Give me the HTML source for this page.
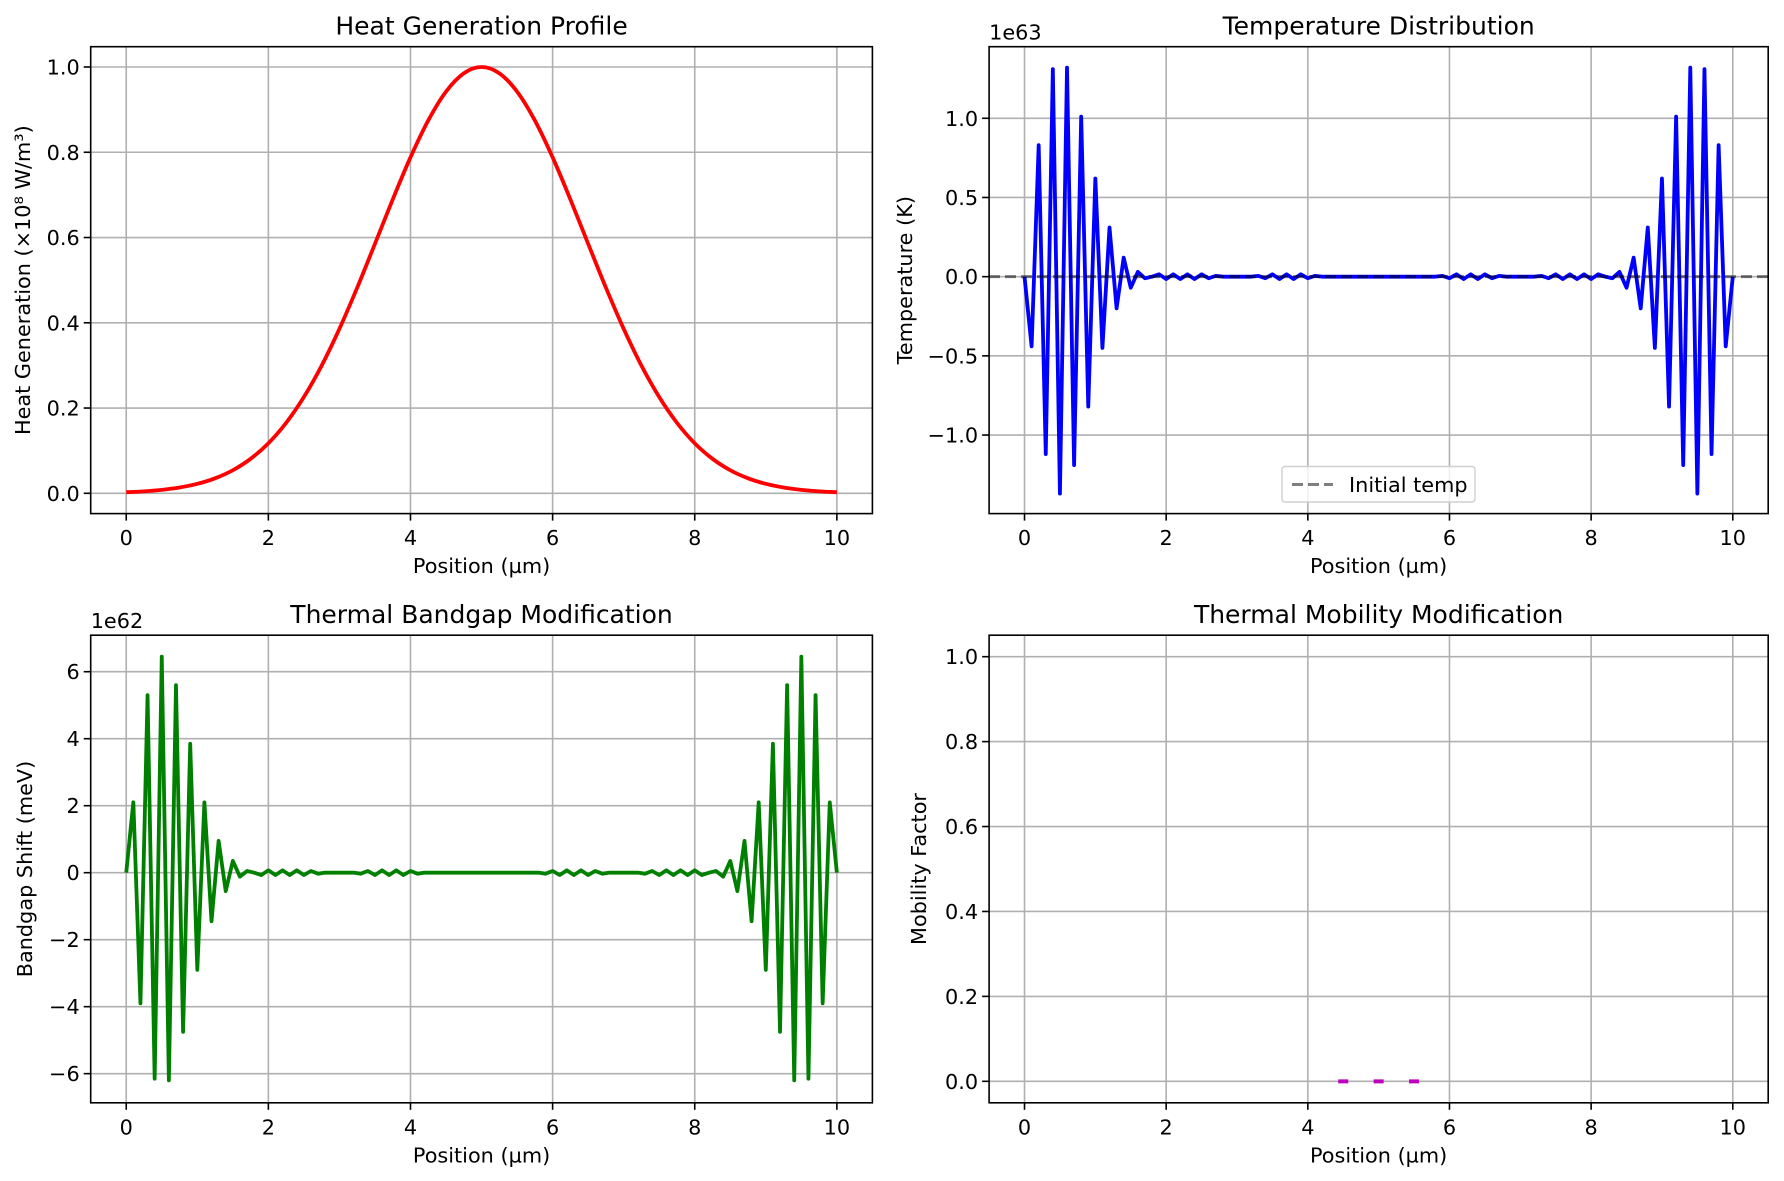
<!DOCTYPE html>
<html><head><meta charset="utf-8"><style>
html,body{margin:0;padding:0;background:#fff}
svg{display:block;font-family:"DejaVu Sans","Liberation Sans",sans-serif}
</style></head><body>
<svg id="fig" width="1784" height="1181" viewBox="0 0 1784 1181" xmlns="http://www.w3.org/2000/svg"></svg>
<script>
const heatX = [0,0.25,0.5,0.75,1,1.25,1.5,1.75,2,2.25,2.5,2.75,3,3.25,3.5,3.75,4,4.25,4.5,4.75,5,5.25,5.5,5.75,6,6.25,6.5,6.75,7,7.25,7.5,7.75,8,8.25,8.5,8.75,9,9.25,9.5,9.75,10];
const heatValues = [0.0026,0.0046,0.0081,0.0136,0.0222,0.0352,0.0541,0.0809,0.1173,0.1652,0.2258,0.2996,0.3859,0.4823,0.5853,0.6893,0.7881,0.8746,0.9422,0.9852,1,0.9852,0.9422,0.8746,0.7881,0.6893,0.5853,0.4823,0.3859,0.2996,0.2258,0.1652,0.1173,0.0809,0.0541,0.0352,0.0222,0.0136,0.0081,0.0046,0.0026];
const tempValues = [0,-0.44,0.83,-1.12,1.31,-1.37,1.32,-1.19,1.01,-0.82,0.62,-0.45,0.31,-0.2,0.12,-0.07,0.03,-0.01,
0,0.015,-0.015,0.015,-0.015,0.015,-0.015,0.015,-0.01,0.005,0,0,0,0,0,0.005,-0.01,0.015,-0.015,0.015,-0.015,0.015,-0.01,0.005,
0,0,0,0,0,0,0,0,0,
0,0,0,0,0,0,0,0,
0.005,-0.01,0.015,-0.015,0.015,-0.015,0.015,-0.01,0.005,0,0,0,0,0,0.005,-0.01,0.015,-0.015,0.015,-0.015,0.015,-0.015,0.015,0,
-0.01,0.03,-0.07,0.12,-0.2,0.31,-0.45,0.62,-0.82,1.01,-1.19,1.32,-1.37,1.31,-1.12,0.83,-0.44,0];
const bandValues = [0,2.1,-3.9,5.3,-6.15,6.45,-6.2,5.6,-4.75,3.85,-2.9,2.1,-1.45,0.95,-0.55,0.35,-0.12,0.05,
0,-0.07,0.07,-0.07,0.07,-0.07,0.07,-0.07,0.05,-0.03,0,0,0,0,0,-0.03,0.05,-0.07,0.07,-0.07,0.07,-0.07,0.05,-0.03,
0,0,0,0,0,0,0,0,0,0,0,0,0,0,0,0,0,
-0.03,0.05,-0.07,0.07,-0.07,0.07,-0.07,0.05,-0.03,0,0,0,0,0,-0.03,0.05,-0.07,0.07,-0.07,0.07,-0.07,0.07,-0.07,0,
0.05,-0.12,0.35,-0.55,0.95,-1.45,2.1,-2.9,3.85,-4.75,5.6,-6.2,6.45,-6.15,5.3,-3.9,2.1,0];
const mobilityX = [4.5,5.0,5.5];
const mobilityValues = [0,0,0];
const xTicks = [0,2,4,6,8,10];
const xTickLabels = ["0","2","4","6","8","10"];
const heatYTicks = [0,0.2,0.4,0.6,0.8,1.0];
const heatYTickLabels = ["0.0","0.2","0.4","0.6","0.8","1.0"];
const tempYTicks = [-1,-0.5,0,0.5,1];
const tempYTickLabels = ["\u22121.0","\u22120.5","0.0","0.5","1.0"];
const bandYTicks = [-6,-4,-2,0,2,4,6];
const bandYTickLabels = ["\u22126","\u22124","\u22122","0","2","4","6"];
const mobYTicks = [0,0.2,0.4,0.6,0.8,1.0];
const mobYTickLabels = ["0.0","0.2","0.4","0.6","0.8","1.0"];

const NS="http://www.w3.org/2000/svg";
const fig=document.getElementById('fig');
const FS=20.8, TFS=25;
function mk(tag,attrs,parent,text){const e=document.createElementNS(NS,tag);for(const k in attrs)e.setAttribute(k,attrs[k]);if(text!==undefined)e.textContent=text;(parent||fig).appendChild(e);return e;}

function makeAxes(o){
  const g=mk('g',{});
  
  
  const sx=v=>o.L+(v-o.xmin)/(o.xmax-o.xmin)*(o.R-o.L);
  const sy=v=>o.B-(v-o.ymin)/(o.ymax-o.ymin)*(o.B-o.T);
  xTicks.forEach((t,i)=>{
    const l=mk('line',{x1:sx(t),x2:sx(t),y1:o.T,y2:o.B,stroke:'#b0b0b0','stroke-width':1.6},g);
    
    
    mk('line',{x1:sx(t),x2:sx(t),y1:o.B,y2:o.B+7,stroke:'#000','stroke-width':1.6},g);
    const tx=mk('text',{x:sx(t),y:o.B+31.5,'font-size':FS,'text-anchor':'middle'},g,xTickLabels[i]);
    
    
  });
  o.yt.forEach((t,i)=>{
    const l=mk('line',{x1:o.L,x2:o.R,y1:sy(t),y2:sy(t),stroke:'#b0b0b0','stroke-width':1.6},g);
    
    
    mk('line',{x1:o.L-7,x2:o.L,y1:sy(t),y2:sy(t),stroke:'#000','stroke-width':1.6},g);
    const tx=mk('text',{x:o.L-11,y:sy(t)+7.5,'font-size':FS,'text-anchor':'end'},g,o.ytl[i]);
    
    
  });
  const clipId='c'+o.name;
  const cp=mk('clipPath',{id:clipId},g);
  mk('rect',{x:o.L,y:o.T,width:o.R-o.L,height:o.B-o.T},cp);
  const plot=mk('g',{'clip-path':'url(#'+clipId+')'},g);
  o.draw(plot,sx,sy);
  const fr=mk('rect',{x:o.L,y:o.T,width:o.R-o.L,height:o.B-o.T,fill:'none',stroke:'#000','stroke-width':1.6},g);
  
  
  const ti=mk('text',{x:(o.L+o.R)/2,y:o.T-12,'font-size':TFS,'text-anchor':'middle'},g,o.title);
  
  
  const xl=mk('text',{x:(o.L+o.R)/2,y:o.B+59.5,'font-size':FS,'text-anchor':'middle'},g,'Position (\u00b5m)');
  
  
  const cy=(o.T+o.B)/2;
  const yl=mk('text',{x:o.ylx,y:cy,'font-size':FS,'text-anchor':'middle',transform:'rotate(-90 '+o.ylx+' '+cy+')'},g,o.ylabel);
  
  
  if(o.offset){
    const ot=mk('text',{x:o.L,y:o.T-7,'font-size':FS,'text-anchor':'start'},g,o.offset);
    
    
  }
}
function pathFrom(xs,ys,sx,sy){return xs.map((x,i)=>(i?'L':'M')+sx(x).toFixed(2)+','+sy(ys[i]).toFixed(2)).join(' ');}
function smoothPath(xs,ys,sx,sy){
  const P=xs.map((x,i)=>[sx(x),sy(ys[i])]);
  let d='M'+P[0][0].toFixed(2)+','+P[0][1].toFixed(2);
  for(let i=0;i<P.length-1;i++){
    const p0=P[Math.max(0,i-1)],p1=P[i],p2=P[i+1],p3=P[Math.min(P.length-1,i+2)];
    const c1=[p1[0]+(p2[0]-p0[0])/6,p1[1]+(p2[1]-p0[1])/6];
    const c2=[p2[0]-(p3[0]-p1[0])/6,p2[1]-(p3[1]-p1[1])/6];
    d+=' C'+c1[0].toFixed(2)+','+c1[1].toFixed(2)+' '+c2[0].toFixed(2)+','+c2[1].toFixed(2)+' '+p2[0].toFixed(2)+','+p2[1].toFixed(2);
  }
  return d;
}
const gridX=tempValues.map((_,i)=>i*0.1);

makeAxes({name:'heat-generation-chart',L:90.7,R:872.4,T:46.7,B:513.6,xmin:-0.5,xmax:10.5,ymin:-0.0476,ymax:1.0476,
  yt:heatYTicks,ytl:heatYTickLabels,title:'Heat Generation Profile',ylabel:'Heat Generation (\u00d710\u2078 W/m\u00b3)',ylx:30,
  draw:(p,sx,sy)=>{const l=mk('path',{d:smoothPath(heatX,heatValues,sx,sy),fill:'none',stroke:'#ff0000','stroke-width':3.8,'stroke-linejoin':'round'},p);
    
    }});

makeAxes({name:'temperature-chart',L:989.1,R:1768.2,T:46.7,B:513.6,xmin:-0.5,xmax:10.5,ymin:-1.496,ymax:1.452,
  yt:tempYTicks,ytl:tempYTickLabels,title:'Temperature Distribution',ylabel:'Temperature (K)',ylx:912,offset:'1e63',
  draw:(p,sx,sy)=>{
    const l=mk('path',{d:pathFrom(gridX,tempValues,sx,sy),fill:'none',stroke:'#0000ff','stroke-width':3.8,'stroke-linejoin':'round'},p);
    
    
    const d=mk('line',{x1:989,x2:1769,y1:sy(0),y2:sy(0),stroke:'rgba(0,0,0,0.5)','stroke-width':3,'stroke-dasharray':'11,5'},p);
    
    
  }});
const lg=mk('g',{});


mk('rect',{x:1282,y:466.5,width:193,height:35.5,rx:3,fill:'rgba(255,255,255,0.8)',stroke:'#d0d0d0','stroke-width':1.4},lg);
const ls=mk('line',{x1:1292,x2:1333,y1:484.5,y2:484.5,stroke:'rgba(0,0,0,0.5)','stroke-width':3,'stroke-dasharray':'11,5'},lg);


const lt=mk('text',{x:1349,y:492,'font-size':FS},lg,'Initial temp');



makeAxes({name:'bandgap-chart',L:90.7,R:872.4,T:635.2,B:1102.8,xmin:-0.5,xmax:10.5,ymin:-6.87,ymax:7.09,
  yt:bandYTicks,ytl:bandYTickLabels,title:'Thermal Bandgap Modification',ylabel:'Bandgap Shift (meV)',ylx:32,offset:'1e62',
  draw:(p,sx,sy)=>{const l=mk('path',{d:pathFrom(gridX,bandValues,sx,sy),fill:'none',stroke:'#008000','stroke-width':3.8,'stroke-linejoin':'round'},p);
    
    }});

makeAxes({name:'mobility-chart',L:989.1,R:1768.2,T:635.2,B:1102.8,xmin:-0.5,xmax:10.5,ymin:-0.0506,ymax:1.0506,
  yt:mobYTicks,ytl:mobYTickLabels,title:'Thermal Mobility Modification',ylabel:'Mobility Factor',ylx:926,
  draw:(p,sx,sy)=>{mobilityX.forEach((x,i)=>{
    const s=mk('line',{x1:sx(x)-5,x2:sx(x)+5,y1:sy(mobilityValues[i]),y2:sy(mobilityValues[i]),stroke:'#bf00bf','stroke-width':4},p);
    
    
  });}});
</script>
</body></html>
